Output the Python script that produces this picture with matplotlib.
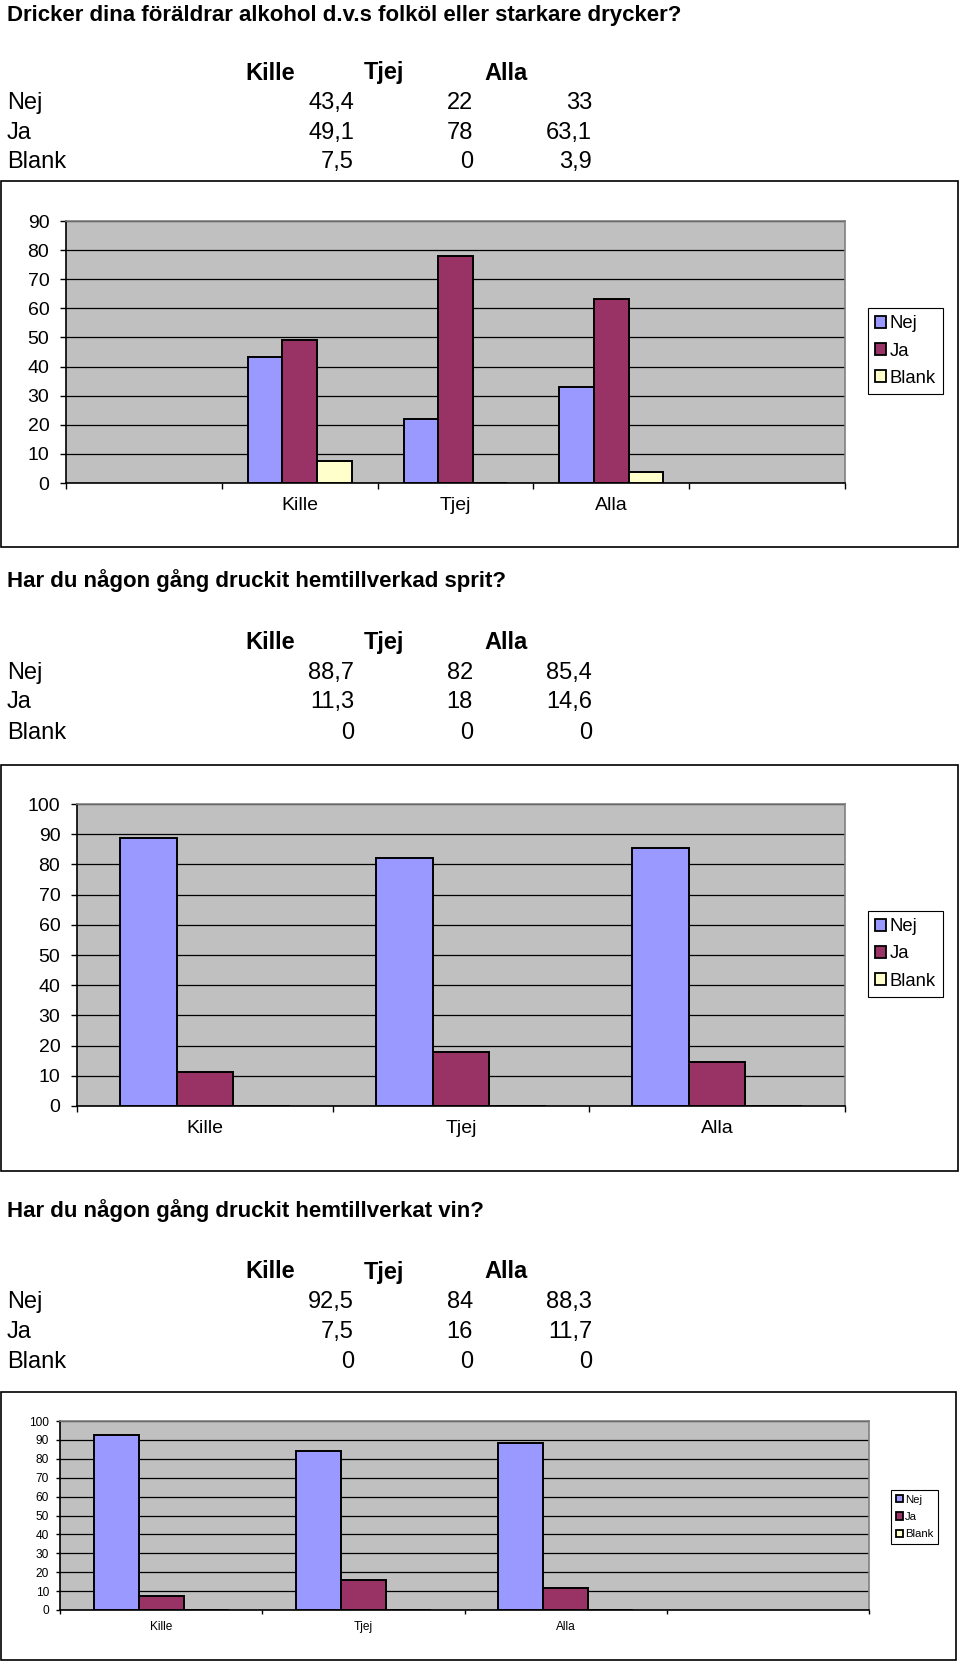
import matplotlib
matplotlib.use("Agg")
import matplotlib.pyplot as plt
from matplotlib.patches import Rectangle, Patch
import numpy as np

plt.rcParams['font.family'] = ['Liberation Sans', 'DejaVu Sans']

W, H = 960, 1664

series = ["Nej", "Ja", "Blank"]
groups = ["Kille", "Tjej", "Alla"]
colors = ["#9999FF", "#993366", "#FFFFCC"]

titles = [
    "Dricker dina föräldrar alkohol d.v.s folköl eller starkare drycker?",
    "Har du någon gång druckit hemtillverkad sprit?",
    "Har du någon gång druckit hemtillverkat vin?",
]
table_labels = [
    [["43,4", "22", "33"], ["49,1", "78", "63,1"], ["7,5", "0", "3,9"]],
    [["88,7", "82", "85,4"], ["11,3", "18", "14,6"], ["0", "0", "0"]],
    [["92,5", "84", "88,3"], ["7,5", "16", "11,7"], ["0", "0", "0"]],
]
nej1 = [43.4, 22, 33]
ja1 = [49.1, 78, 63.1]
blank1 = [7.5, 0, 3.9]
nej2 = [88.7, 82, 85.4]
ja2 = [11.3, 18, 14.6]
blank2 = [0, 0, 0]
nej3 = [92.5, 84, 88.3]
ja3 = [7.5, 16, 11.7]
blank3 = [0, 0, 0]
chart_cats = [["", "Kille", "Tjej", "Alla", ""], ["Kille", "Tjej", "Alla"], ["Kille", "Tjej", "Alla", ""]]
chart_data = [[nej1, ja1, blank1], [nej2, ja2, blank2], [nej3, ja3, blank3]]
ymax = [90, 100, 100]

fig = plt.figure(figsize=(W / 100, H / 100), dpi=100)


def fy(y):
    return 1 - y / H


def rect(x0, y0, x1, y1):
    return [x0 / W, 1 - y1 / H, (x1 - x0) / W, (y1 - y0) / H]


# layout (pixel positions)
text_y = [
    (16, 73, [103, 133, 162]),
    (581, 643, [673, 702, 733]),
    (1211, 1272, [1302, 1332, 1362]),
]
frames = [(1, 181, 958, 547), (1, 765, 958, 1171), (1, 1392, 956, 1660)]
plots = [(66, 221, 845, 483), (77, 804, 845, 1106), (60, 1421, 869, 1610)]
legends = [(867, 307, 944, 395), (867, 909, 944, 999), (889, 1488, 940, 1546)]
tick_fs = [14, 14, 8.6]
leg_fs = [13.3, 13.3, 8.2]
ylen = [4, 4, 3]
ypad = [8, 8, 5]

for k in range(3):
    ty, hy, rys = text_y[k]
    fig.text(7 / W, fy(ty), titles[k], fontsize=16, fontweight="bold", va="center", ha="left")
    for j, (g, hx) in enumerate(zip(groups, [245, 364, 484])):
        fig.text(hx / W, fy(hy), g, fontsize=17, fontweight="bold", va="center", ha="left")
    for i, s in enumerate(series):
        fig.text(7 / W, fy(rys[i]), s, fontsize=17, va="center", ha="left")
        for j, vx in enumerate([354, 473, 592]):
            fig.text(vx / W, fy(rys[i]), table_labels[k][i][j], fontsize=17, va="center", ha="right")

    # frame
    x0, y0, x1, y1 = frames[k]
    fig.patches.append(Rectangle((x0 / W, fy(y1)), (x1 - x0) / W, (y1 - y0) / H,
                                 transform=fig.transFigure, fill=False, edgecolor="black", lw=1.2))

    ax = fig.add_axes(rect(*plots[k]))
    ax.set_facecolor("#C0C0C0")
    cats = chart_cats[k]
    n = len(cats)
    data_idx = [i for i, c in enumerate(cats) if c != ""]
    bw = 1 / 4.5
    for s in range(3):
        xs = [i + 0.5 - 1.5 * bw + s * bw + bw / 2 for i in data_idx]
        ax.bar(xs, chart_data[k][s], width=bw, color=colors[s], edgecolor="black", lw=1.4, zorder=3)
    ax.set_xlim(0, n)
    ax.set_ylim(0, ymax[k])
    ax.set_yticks(np.arange(0, ymax[k] + 1, 10))
    ax.yaxis.grid(True, color="black", lw=0.9, zorder=0)
    ax.set_axisbelow(True)
    ax.set_xticks([i + 0.5 for i in range(n)])
    ax.set_xticklabels(cats)
    ax.set_xticks(np.arange(0, n + 1), minor=True)
    ax.tick_params(axis="x", which="major", length=0, labelsize=tick_fs[k], pad=10 if k < 2 else 8)
    ax.tick_params(axis="x", which="minor", length=ylen[k], width=1, color="black")
    ax.tick_params(axis="y", length=ylen[k], width=1, labelsize=tick_fs[k], pad=ypad[k])
    for side in ["top", "right"]:
        ax.spines[side].set_color("#808080")
        ax.spines[side].set_linewidth(1.2)
    for side in ["left", "bottom"]:
        ax.spines[side].set_color("black")
        ax.spines[side].set_linewidth(1.2)

    lx0, ly0, lx1, ly1 = legends[k]
    handles = [Patch(facecolor=colors[s], edgecolor="black", lw=1.3, label=series[s]) for s in range(3)]
    leg = fig.legend(handles=handles, loc="center", bbox_to_anchor=rect(lx0, ly0, lx1, ly1),
                     bbox_transform=fig.transFigure, fontsize=leg_fs[k],
                     handlelength=0.6, handleheight=0.6, handletextpad=0.2, borderpad=0.4,
                     labelspacing=0.55 if k < 2 else 0.65, fancybox=False, framealpha=1,
                     edgecolor="black")
    leg.get_frame().set_linewidth(0.8)

fig.savefig("out.png", dpi=100)
